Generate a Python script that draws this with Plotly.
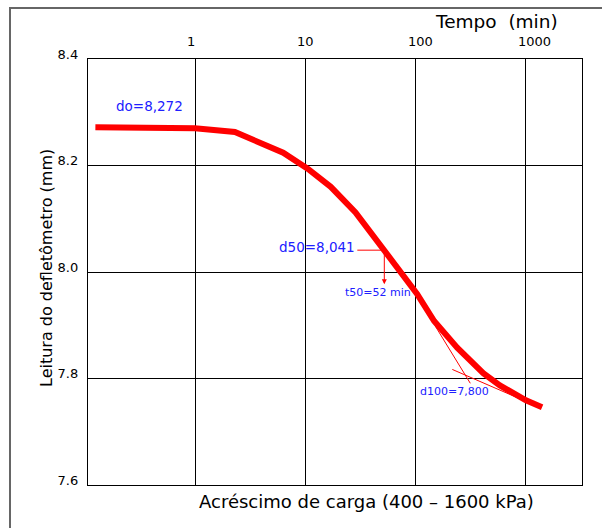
import math
import plotly.graph_objects as go

# Consolidation curve: dial reading vs. elapsed time (log scale)
tempo_min = [0.125, 1.0, 2.3, 6.3, 10.5, 17.0, 28.5, 48.0, 72.0, 103.0, 147.0, 238.0, 410.0, 580.0, 1000.0, 1400.0]
leitura_mm = [8.272, 8.270, 8.263, 8.224, 8.194, 8.160, 8.112, 8.048, 8.002, 7.959, 7.908, 7.858, 7.810, 7.787, 7.759, 7.746]

# Casagrande construction
d0 = 8.272
d50 = 8.041
t50 = 52.0
d100 = 7.800
d50_line_t = [29.6, t50]
arrow_end = 7.977
tangent1_t = [150.0, 313.0]
tangent1_v = [7.899, 7.791]
tangent2_t = [215.0, 1024.0]
tangent2_v = [7.817, 7.756]

x_ticks = [1, 10, 100, 1000]
x_tick_text = ["1", "10", "100", "1000"]
y_ticks = [7.6, 7.8, 8.0, 8.2, 8.4]
y_tick_text = ["7.6", "7.8", "8.0", "8.2", "8.4"]

FONT = "DejaVu Sans"
RED = "#ff0000"
BLUE = "#2020ff"

# figure geometry (pixels)
W, H = 602, 528
ML, MR, MT, MB = 88, 20, 59, 43
PW, PH = W - ML - MR, H - MT - MB


def px(xp):
    return (xp - ML) / PW


def py(yp):
    return (H - MB - yp) / PH


fig = go.Figure()

fig.add_trace(go.Scatter(x=tempo_min, y=leitura_mm, mode="lines",
                         line=dict(color=RED, width=6), hoverinfo="skip"))
fig.add_trace(go.Scatter(x=tangent1_t, y=tangent1_v, mode="lines",
                         line=dict(color=RED, width=1), hoverinfo="skip"))
fig.add_trace(go.Scatter(x=tangent2_t, y=tangent2_v, mode="lines",
                         line=dict(color=RED, width=1), hoverinfo="skip"))
fig.add_trace(go.Scatter(x=d50_line_t, y=[d50, d50], mode="lines",
                         line=dict(color=RED, width=1), hoverinfo="skip"))

annotations = [
    # t50 arrow
    dict(x=math.log10(t50), y=arrow_end, ax=math.log10(t50), ay=d50,
         xref="x", yref="y", axref="x", ayref="y", text="",
         showarrow=True, arrowhead=2, arrowsize=1, arrowwidth=1, arrowcolor=RED),
    dict(x=-0.73, y=8.311, xref="x", yref="y", text=f"do={d0:.3f}".replace(".", ","),
         showarrow=False, xanchor="left", yanchor="middle",
         font=dict(family=FONT, size=13.5, color=BLUE)),
    dict(x=math.log10(d50_line_t[0]), y=d50, xref="x", yref="y",
         text=f"d50={d50:.3f}".replace(".", ","), showarrow=False,
         xanchor="right", yanchor="middle", yshift=3,
         font=dict(family=FONT, size=13.5, color=BLUE)),
    dict(x=1.337, y=7.961, xref="x", yref="y", text=f"t50={t50:.0f} min",
         showarrow=False, xanchor="left", yanchor="middle",
         font=dict(family=FONT, size=11, color=BLUE)),
    dict(x=2.024, y=7.776, xref="x", yref="y", text=f"d100={d100:.3f}".replace(".", ","),
         showarrow=False, xanchor="left", yanchor="middle",
         font=dict(family=FONT, size=11, color=BLUE)),
    # axis titles
    dict(x=px(496), y=py(21), xref="paper", yref="paper",
         text="Tempo  (min)", showarrow=False, xanchor="center", yanchor="middle",
         font=dict(family=FONT, size=18.5, color="black")),
    dict(x=px(366), y=py(501), xref="paper", yref="paper",
         text="Acréscimo de carga (400 – 1600 kPa)", showarrow=False,
         xanchor="center", yanchor="middle",
         font=dict(family=FONT, size=18, color="black")),
    dict(x=px(46), y=py(268), xref="paper", yref="paper",
         text="Leitura do defletômetro (mm)", textangle=-90, showarrow=False,
         xanchor="center", yanchor="middle",
         font=dict(family=FONT, size=16, color="black")),
]

# time labels along the top edge, set just left of each gridline
for tv, tt in zip(x_ticks, x_tick_text):
    annotations.append(dict(x=math.log10(tv), y=py(41), xref="x", yref="paper",
                            text=tt, showarrow=False, xanchor="left", yanchor="middle",
                            xshift=-10, font=dict(family=FONT, size=13, color="black")))

fig.update_layout(
    width=W, height=H,
    margin=dict(l=ML, r=MR, t=MT, b=MB),
    paper_bgcolor="white", plot_bgcolor="white",
    showlegend=False,
    annotations=annotations,
    shapes=[dict(type="rect", xref="paper", yref="paper",
                 x0=px(10), x1=1.2, y0=-0.3, y1=py(8),
                 line=dict(color="#666666", width=2), fillcolor="rgba(0,0,0,0)")],
)

fig.update_xaxes(type="log", range=[-0.970, 3.508], side="top",
                 tickvals=x_ticks, ticktext=x_tick_text, ticks="",
                 showticklabels=False,
                 showgrid=True, gridcolor="black", gridwidth=1,
                 showline=True, linecolor="black", linewidth=1.3, mirror=True,
                 zeroline=False)
fig.update_yaxes(range=[7.6, 8.4], tickvals=y_ticks, ticktext=y_tick_text, ticks="",
                 ticklabelstandoff=6, ticklabelshift=-5,
                 tickfont=dict(family=FONT, size=13, color="black"),
                 showgrid=True, gridcolor="black", gridwidth=1,
                 showline=True, linecolor="black", linewidth=1.3, mirror=True,
                 zeroline=False)

fig.write_html("out.html")
